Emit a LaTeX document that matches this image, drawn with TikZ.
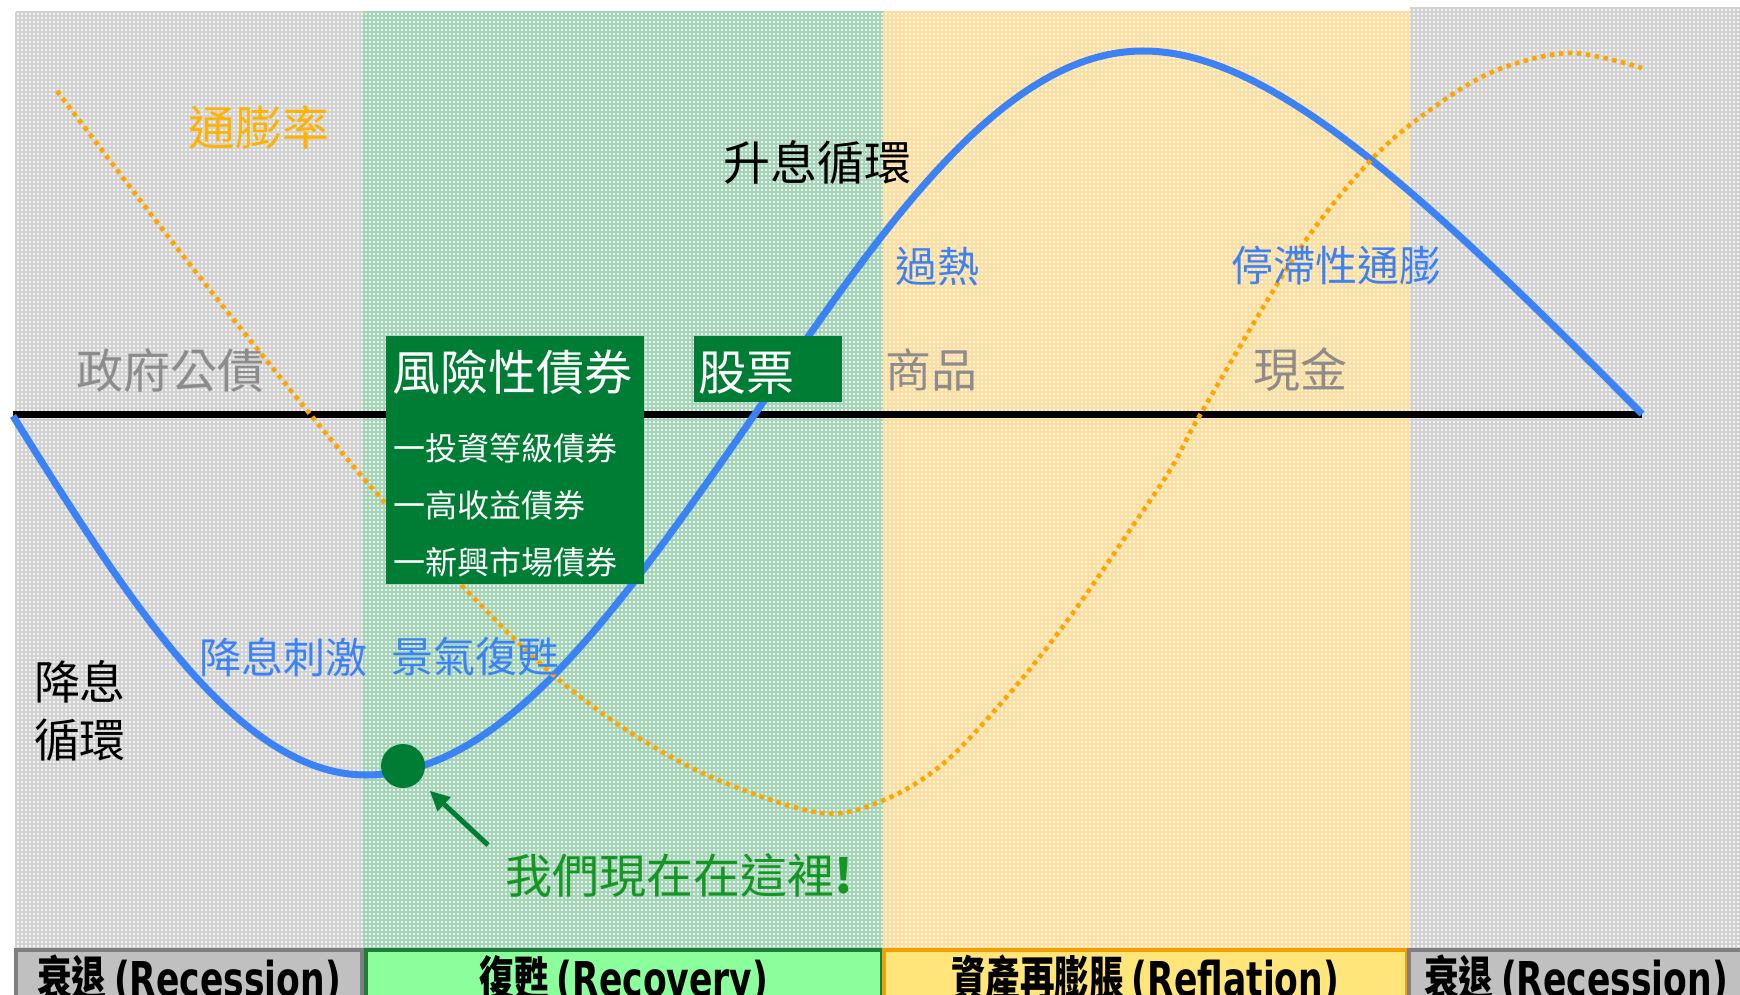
\documentclass[tikz,border=0pt]{standalone}
\usepackage{graphicx}
\usepackage{fontspec}
\setmainfont{Noto Sans CJK TC}
\newfontfamily\dvb{DejaVu Sans}
\usetikzlibrary{arrows.meta}
\definecolor{gFill}{RGB}{243,243,243}
\definecolor{gLine}{RGB}{210,210,210}
\definecolor{grFill}{RGB}{230,244,236}
\definecolor{grLine}{RGB}{166,212,184}
\definecolor{oFill}{RGB}{255,246,228}
\definecolor{oLine}{RGB}{255,221,158}
\definecolor{curveBlue}{RGB}{58,130,245}
\definecolor{dotOrange}{RGB}{255,165,0}
\definecolor{txtOrange}{RGB}{255,178,0}
\definecolor{txtGray}{RGB}{140,140,140}
\definecolor{boxGreen}{RGB}{0,125,52}
\definecolor{hereGreen}{RGB}{20,150,35}
\definecolor{barGray}{RGB}{192,192,192}
\definecolor{barGrayB}{RGB}{127,127,127}
\definecolor{barGreen}{RGB}{138,255,155}
\definecolor{barGreenB}{RGB}{30,125,58}
\definecolor{barYellow}{RGB}{255,229,122}
\definecolor{barYellowB}{RGB}{240,160,0}
\newcommand{\fsz}[1]{\fontsize{#1pt}{#1pt}\selectfont}
\newcommand{\barlabel}[2]{\scalebox{0.72}[1]{\fsz{48}\bfseries #1 {\dvb\bfseries #2}}}
\tikzset{
  lbl/.style={inner sep=0pt},
  bluecurve/.style={draw=curveBlue, line width=7pt},
  orangedots/.style={draw=dotOrange, line width=4.6pt, dash pattern=on 4.5pt off 4.5pt},
  greenbox/.style={fill=boxGreen, inner sep=0pt, anchor=north west},
  barbox/.style={line width=4pt},
}
\begin{document}
\begin{tikzpicture}[x=1pt,y=-1pt]
\useasboundingbox (0,0) rectangle (1740,995);
\fill[white] (0,0) rectangle (1740,995);
% background regions
\fill[gFill] (16,12) rectangle (364,950);
\draw[gLine, line width=1.5pt, step=4pt] (16,948) grid (364,12);
\fill[grFill] (364,12) rectangle (884,950);
\draw[grLine, line width=1.5pt, step=4pt] (364,948) grid (884,12);
\fill[oFill] (884,12) rectangle (1410,950);
\draw[oLine, line width=1.5pt, step=4pt] (884,948) grid (1410,12);
\fill[gFill] (1410,8) rectangle (1740,950);
\draw[gLine, line width=1.5pt, step=4pt] (1410,948) grid (1740,8);
% bottom bar
\draw[barbox, fill=barGray, draw=barGrayB] (16,950) rectangle (362,1005);
\draw[barbox, fill=barGreen, draw=barGreenB] (366,950) rectangle (882,1005);
\draw[barbox, fill=barYellow, draw=barYellowB] (884,950) rectangle (1407,1005);
\draw[barbox, fill=barGray, draw=barGrayB] (1409,950) rectangle (1750,1005);
\node[lbl, anchor=base] (b1) at (189,996) {\barlabel{衰退}{(Recession)}};
\node[lbl, anchor=base] (b2) at (624,996) {\barlabel{復甦}{(Recovery)}};
\node[lbl, anchor=base] (b3) at (1145,996) {\barlabel{資產再膨脹}{(Reflation)}};
\node[lbl, anchor=base] (b4) at (1576,996) {\barlabel{衰退}{(Recession)}};
% axis line
\coordinate (L) at (13,414);
\coordinate (R) at (1642,414);
\draw[line width=7pt] (L) -- (R);
% blue curve
\draw[bluecurve] (13,416) .. controls (128,600) and (238,775) .. (366,775)
  .. controls (500,775) and (612,620) .. (755,414)
  .. controls (882,228) and (1003,51) .. (1143,51)
  .. controls (1270,51) and (1420,190) .. (R);
% orange dotted inflation curve
\draw[orangedots] plot[smooth, tension=0.55] coordinates {
  (57,91) (184,257) (310,414) (387,505) (473,597) (551,673) (631,733)
  (718,780) (821,813) (884,800) (944,763) (1010,693) (1070,617)
  (1130,530) (1172,467) (1200,415) (1297,253) (1372,159) (1437,105)
  (1497,70) (1570,53) (1642,68)};
% green boxes
\node[greenbox, minimum width=258pt, minimum height=248pt] (rbox) at (386,336) {};
\node[greenbox, minimum width=148pt, minimum height=66pt] (sbox) at (694,336) {};
\node[lbl, anchor=west, text=white, font=\fsz{48}] (rt) at (392,372) {風險性債券};
\node[lbl, anchor=west, text=white, font=\fsz{32}] (r1) at (393,448) {一投資等級債券};
\node[lbl, anchor=west, text=white, font=\fsz{32}] (r2) at (393,505) {一高收益債券};
\node[lbl, anchor=west, text=white, font=\fsz{32}] (r3) at (393,562) {一新興市場債券};
\node[lbl, anchor=west, text=white, font=\fsz{48}] (st) at (698,373) {股票};
% labels
\node[lbl, text=txtOrange, font=\fsz{47}] (tong) at (259,128) {通膨率};
\node[lbl, text=txtGray, font=\fsz{47}] (zf) at (170,371) {政府公債};
\node[lbl, text=black, font=\fsz{47}] (sx) at (817,162) {升息循環};
\node[lbl, text=curveBlue, font=\fsz{42}] (gr) at (937,267) {過熱};
\node[lbl, text=curveBlue, font=\fsz{42}] (zz) at (1336,266) {停滯性通膨};
\node[lbl, text=txtGray, font=\fsz{46}] (sp) at (931,370) {商品};
\node[lbl, text=txtGray, font=\fsz{47}] (xj) at (1300,370) {現金};
\node[lbl, text=curveBlue, font=\fsz{42}] (jc) at (283,657) {降息刺激};
\node[lbl, text=curveBlue, font=\fsz{42}] (jq) at (475,657) {景氣復甦};
\node[lbl, text=black, font=\fsz{46}] (jx1) at (80,682) {降息};
\node[lbl, text=black, font=\fsz{46}] (jx2) at (80,740) {循環};
\node[lbl, text=hereGreen, font=\fsz{47}] (here) at (679,875) {我們現在在這裡{\bfseries !}};
% dot and arrow
\node[circle, fill=boxGreen, minimum size=44pt, inner sep=0pt] (dot) at (403,766) {};
\coordinate (as) at (488,845);
\draw[boxGreen, line width=5pt, shorten >=14pt, -{Triangle[length=20pt,width=18pt]}] (as) -- (dot);
\end{tikzpicture}
\end{document}
